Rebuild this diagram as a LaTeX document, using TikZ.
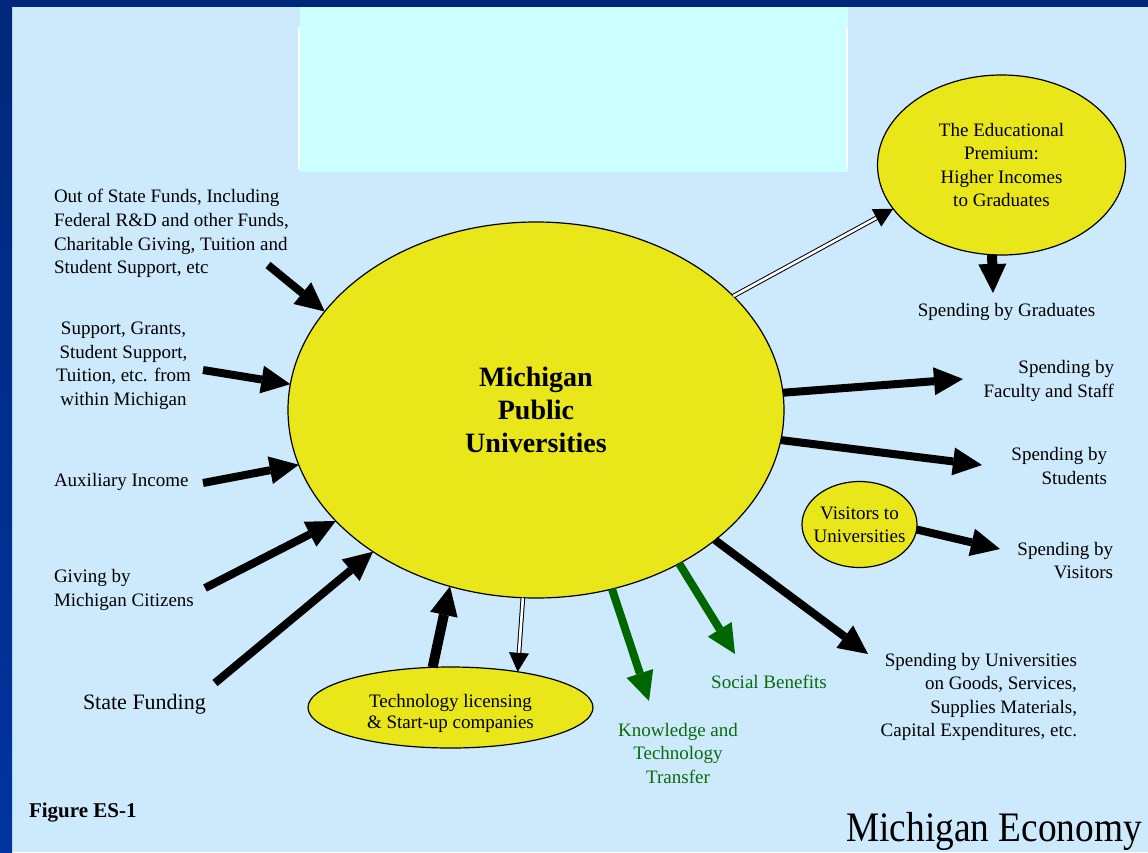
\documentclass[tikz,border=0pt]{standalone}
\usepackage{fontspec}
\setmainfont{Liberation Serif}
\usetikzlibrary{arrows.meta,shapes.geometric}
\definecolor{navy}{HTML}{00287A}
\definecolor{frameblue}{HTML}{0034A0}
\definecolor{bgblue}{HTML}{CCEAFC}
\definecolor{cyanbox}{HTML}{CCFFFF}
\definecolor{ovalyellow}{HTML}{E9E619}
\definecolor{arrowgreen}{HTML}{006600}
\definecolor{textgreen}{HTML}{0B6B0B}
\begin{document}
\begin{tikzpicture}[x=1pt,y=-1pt,
  every node/.style={inner sep=0pt, outer sep=0pt},
  lbl/.style={font=\fontsize{19}{23.5}\selectfont, text=black},
  blob/.style={ellipse, draw=black, line width=1.2pt, fill=ovalyellow},
  fat/.style={draw=black, line width=8pt, -{Triangle[length=29pt,width=28pt,line width=0pt]}},
  fatgreen/.style={fat, draw=arrowgreen},
  dbl/.style={draw=black, line width=1pt, double=white, double distance=2.6pt, -{Triangle[length=19pt,width=20pt,line width=0pt]}}
]
\path[use as bounding box] (0,0) rectangle (1148,852);
\fill[bgblue] (0,0) rectangle (1148,852);
\fill[navy] (0,0) rectangle (1148,7);
\shade[top color=navy, bottom color=frameblue] (0,0) rectangle (12,852);
\fill[cyanbox] (300,7) rectangle (848,172);
\fill[white] (298,27) rectangle (300,169);
\fill[white] (845.5,27) rectangle (848,169);

% ovals
\node[blob, minimum width=496pt, minimum height=376pt, align=center,
  font=\bfseries\fontsize{28}{33}\selectfont] (main) at (536,410) {Michigan\\Public\\Universities};
\node[blob, minimum width=248pt, minimum height=180pt, lbl, align=center,
  font=\fontsize{19}{23.3}\selectfont] (edu) at (1001.5,165) {The Educational\\Premium:\\Higher Incomes\\to Graduates};
\node[blob, minimum width=115pt, minimum height=86pt, lbl, align=center, inner xsep=-12pt,
  font=\fontsize{19}{23}\selectfont] (vis) at (859.5,524.5) {Visitors to\\Universities};
\node[blob, minimum width=285pt, minimum height=81pt, lbl, align=center,
  font=\fontsize{19}{21.5}\selectfont] (tech) at (450.5,707.5) {\rule{0pt}{25pt}Technology licensing\\\& Start-up companies};

% labels
\node[lbl, align=left, anchor=west, font=\fontsize{19}{23.8}\selectfont] (outstate) at (54,233.5) {Out of State Funds, Including\\Federal R\&D and other Funds,\\Charitable Giving, Tuition and\\Student Support, etc};
\node[lbl, align=center] (support) at (123.5,366) {Support, Grants,\\Student Support,\\Tuition, etc. from\\within Michigan};
\node[lbl, anchor=west] (aux) at (54,482) {Auxiliary Income};
\node[lbl, align=left, anchor=west] (giving) at (54,590) {Giving by\\Michigan Citizens};
\node[font=\fontsize{22}{26}\selectfont, anchor=west] (statef) at (83,704) {State Funding};
\node[font=\bfseries\fontsize{21}{25}\selectfont, anchor=west] (fig) at (29,813) {Figure ES-1};
\node[font=\fontsize{42}{48}\selectfont, anchor=base east] (econ) at (1142,841) {\scalebox{0.89}[1]{Michigan Economy}};
\node[lbl] (gradl) at (1006.5,312) {Spending by Graduates};
\node[lbl, align=right, anchor=east] (facl) at (1114,381) {Spending by\\Faculty and Staff};
\node[lbl, align=right, anchor=east] (stul) at (1107,466) {Spending by\\Students};
\node[lbl, align=right, anchor=east] (visl) at (1113,560.5) {Spending by\\Visitors};
\node[lbl, align=right, anchor=east] (unil) at (1077,697) {Spending by Universities\\on Goods, Services,\\Supplies Materials,\\Capital Expenditures, etc.};
\node[lbl, text=textgreen] (socl) at (769,682) {Social Benefits};
\node[lbl, text=textgreen, align=center] (knol) at (678,753) {Knowledge and\\Technology\\Transfer};

% free ends
\coordinate (tOut) at (268,265);
\coordinate (tSup) at (203,370);
\coordinate (tAux) at (203,483);
\coordinate (tGiv) at (205,588);
\coordinate (tSta) at (215,683);
\coordinate (hKno) at (649,701);
\coordinate (hSoc) at (735,654);
\coordinate (hUni) at (868,654);
\coordinate (hFac) at (963,379);
\coordinate (hStu) at (982,465);
\coordinate (hVis) at (1000,549);
\coordinate (hGrad) at (993,293);

% arrows
\draw[fat] (tOut) -- (main.155.9);
\draw[fat] (tSup) -- (main.174.9);
\draw[fat] (tAux) -- (main.193);
\draw[fat] (tGiv) -- (main.209.3);
\draw[fat] (tSta) -- (main.221.1);
\draw[fat, line width=10pt] (tech.114.7) -- (main.244.9);
\draw[dbl] (main.266.7) -- (tech.28.3);
\draw[fatgreen] (main.293.4) -- (hKno);
\draw[fatgreen] (main.313.8) -- (hSoc);
\draw[fat] (main.324.3) -- (hUni);
\draw[fat] (main.4.6) -- (hFac);
\draw[fat] (main.353.2) -- (hStu);
\draw[fat] (vis.355) -- (hVis);
\draw[dbl] (main.30.5) -- (edu.202.4);
\draw[fat, line width=10pt] (edu.264.5) -- (hGrad);
\end{tikzpicture}
\end{document}
